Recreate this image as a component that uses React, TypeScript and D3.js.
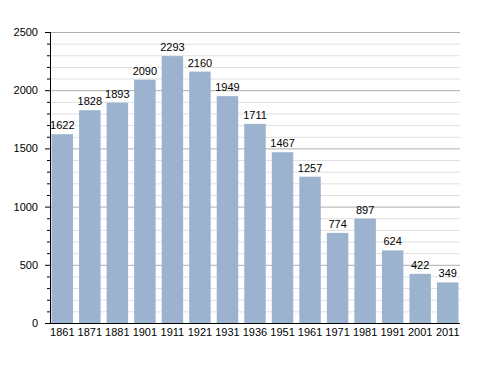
import React, { useRef, useEffect } from 'react';
import * as d3 from 'd3';

const years = ['1861', '1871', '1881', '1901', '1911', '1921', '1931', '1936', '1951', '1961', '1971', '1981', '1991', '2001', '2011'];
const population = [1622, 1828, 1893, 2090, 2293, 2160, 1949, 1711, 1467, 1257, 774, 897, 624, 422, 349];
const majorTicks = [0, 500, 1000, 1500, 2000, 2500];

const App = () => {
  const ref = useRef<SVGSVGElement>(null);

  useEffect(() => {
    const svg = d3.select(ref.current);
    svg.selectAll('*').remove();

    const width = 488, height = 373;
    const left = 50, right = 460, top = 32, bottom = 323;

    const x = d3.scaleBand().domain(years).range([left + 1, right - 1]).paddingInner(0.22).paddingOuter(0.02);
    const y = d3.scaleLinear().domain([0, 2500]).range([bottom, top]);

    svg.attr('width', width).attr('height', height)
      .style('font-family', '"Liberation Sans", Arial, sans-serif');

    // minor grid every 100
    const minor = d3.range(100, 2500, 100).filter((v) => v % 500 !== 0);
    svg.append('g').selectAll('line').data(minor).enter().append('line')
      .attr('x1', left).attr('x2', right)
      .attr('y1', (d) => y(d) + 0.5).attr('y2', (d) => y(d) + 0.5)
      .attr('stroke', '#e0e0e0');

    svg.append('g').selectAll('line').data(majorTicks.slice(1)).enter().append('line')
      .attr('x1', left).attr('x2', right)
      .attr('y1', (d) => y(d) + 0.5).attr('y2', (d) => y(d) + 0.5)
      .attr('stroke', '#adadad');

    // bars
    svg.append('g').selectAll('rect').data(population).enter().append('rect')
      .attr('x', (d, i) => x(years[i]))
      .attr('y', (d) => y(d))
      .attr('width', x.bandwidth())
      .attr('height', (d) => bottom - y(d))
      .attr('fill', '#9bb3cf');

    // value labels
    svg.append('g').selectAll('text').data(population).enter().append('text')
      .attr('x', (d, i) => x(years[i]) + x.bandwidth() / 2)
      .attr('y', (d) => y(d) - 5)
      .attr('text-anchor', 'middle')
      .attr('font-size', '11px')
      .attr('fill', '#000')
      .text((d) => d);

    // axes
    svg.append('line').attr('x1', left + 0.5).attr('x2', left + 0.5).attr('y1', top).attr('y2', bottom + 1)
      .attr('stroke', '#000');
    svg.append('line').attr('x1', left).attr('x2', right).attr('y1', bottom + 0.5).attr('y2', bottom + 0.5)
      .attr('stroke', '#000');

    svg.append('g').selectAll('line').data(d3.range(0, 2600, 100)).enter().append('line')
      .attr('x1', (d) => (d % 500 === 0 ? left - 5 : left - 3)).attr('x2', left)
      .attr('y1', (d) => y(d) + 0.5).attr('y2', (d) => y(d) + 0.5)
      .attr('stroke', '#000');

    svg.append('g').selectAll('text').data(majorTicks).enter().append('text')
      .attr('x', 38)
      .attr('y', (d) => y(d) + 4)
      .attr('text-anchor', 'end')
      .attr('font-size', '11px')
      .attr('fill', '#000')
      .text((d) => d);

    svg.append('g').selectAll('text').data(years).enter().append('text')
      .attr('x', (d) => x(d) + x.bandwidth() / 2)
      .attr('y', bottom + 13)
      .attr('text-anchor', 'middle')
      .attr('font-size', '11px')
      .attr('fill', '#000')
      .text((d) => d);
  }, []);

  return <svg ref={ref} style={{ position: 'absolute', left: 0, top: 0 }}></svg>;
};

export default App;
